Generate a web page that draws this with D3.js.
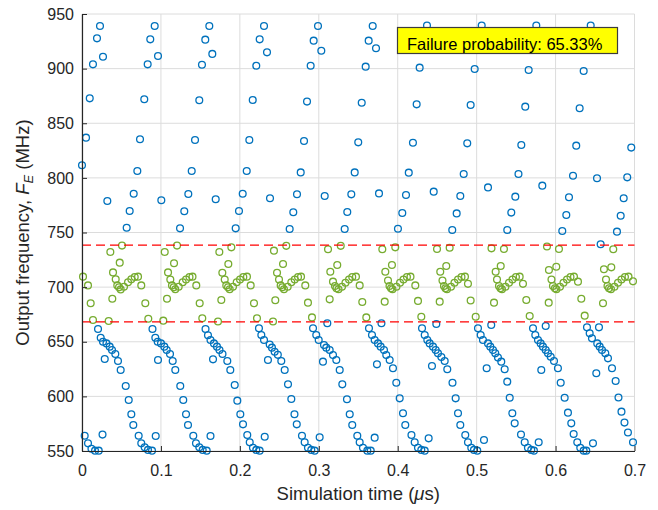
<!DOCTYPE html>
<html>
<head>
<meta charset="utf-8">
<script src="https://cdn.jsdelivr.net/npm/d3@7"></script>
<style>
  html, body { margin: 0; padding: 0; background: #ffffff; }
  svg { display: block; font-family: Arial, "Liberation Sans", Helvetica, sans-serif; }
</style>
</head>
<body>
<svg id="chart" width="658" height="510"></svg>
<script>
// Axis ticks
const xTicks = [0, 0.1, 0.2, 0.3, 0.4, 0.5, 0.6, 0.7];
const yTicks = [550, 600, 650, 700, 750, 800, 850, 900, 950];

// Acceptance band for the output frequency (MHz)
const passBand = [668.2, 738.4];
const failureLabel = "Failure probability: 65.33%";

// Sampled output frequency: [time (ns), frequency (MHz)]
// High branch (rising sweep and peak)
const upperSamples = [
  [0,811.5],[5.1,836.8],[9.8,872.8],[13.9,903.9],[19.0,927.7],[22.8,939],[26.6,910.9],[32.1,778.8],[56.6,754.4],[60.4,769.7],[65.5,785.5],[70.1,806.3],
  [73.5,835.3],[78.9,871.9],[83.2,903.9],[86.5,926.8],[92.1,939],[96.3,911.6],[100.5,779.5],[124.2,753.8],[129.6,769.5],[134.7,785.2],[139.0,806.3],
  [143.2,834.7],[148.6,871],[152.0,903.5],[156.2,926.5],[161.3,939],[165.1,913.5],[169.4,780.4],[194.7,753.8],[198.9,769.7],[203.6,785.5],[208.7,806.3],
  [212.0,834.7],[216.3,871.3],[220.8,902.7],[225.1,926.8],[230.6,939],[234.4,914.9],[238.2,781.3],[263.1,753.2],[267.7,768.5],[272.4,785],[277.1,805],
  [281.3,833.8],[285.1,869.8],[289.7,902.7],[293.5,925.6],[299.0,939],[303.2,916.4],[307.5,783.4],[332.8,753.2],[336.1,768.8],[341.2,784.9],[345.5,805],
  [350.0,832.5],[354.4,868.8],[359.4,901.8],[363.2,925.6],[368.3,939],[372.5,918.6],[376.3,785.8],[400.3,753.5],[405.8,767.8],[410.5,784.3],[414.0,804.8],
  [419.3,832.2],[424.0,867.3],[427.8,900.9],[432.0,924.5],[437.1,939.5],[440.9,919],[445.6,787.4],[469.1,752.3],[474.7,767.5],[479.3,783.4],[483.6,803.5],
  [488.1,831.6],[492.4,866.7],[497.5,899.7],[501.7,924],[506.4,939.5],[510.6,920],[514.4,791.3],[538.8,752.3],[543.9,768.2],[549.0,782.8],[553.0,803.5],
  [556.6,830.1],[561.6,865.2],[565.9,898.7],[570.7,923],[575.6,939.5],[580.2,921],[583.2,792.9],[608.5,751.4],[613.6,766],[617.0,782.2],[622.1,802],
  [626.2,829.5],[630.5,863.7],[635.6,897.8],[639.8,923],[644.5,939.5],[648.7,922],[652.5,799.6],[677.8,750.8],[682.5,765.4],[686.3,781.3],[690.8,800.5],[695.9,827.7]
];

// Middle branch (settling around the target)
const midSamples = [
  [1.3,709.6],[7.6,701.6],[11.0,685.2],[13.9,669.9],
  [33.8,669],[35.9,732.2],[38.4,689.4],[39.3,713.5],[42.7,707.1],[44.7,701.6],[46.9,699.8],[47.8,722.4],[49.0,697.9],[50.7,738.0],[53.2,700.4],[58.3,704.4],[62.5,707.1],[66.8,709.3],[71.0,709.6],[75.1,701.6],[80.2,685.2],[84.0,671.1],
  [103.0,669.3],[104.8,732.2],[107.7,689.4],[109.0,713.5],[111.9,707],[114.0,701.6],[116.2,699.8],[116.6,721.8],[118.2,698],[120.4,738.0],[122.5,700.4],[127.6,704.4],[131.8,707],[136.2,709.3],[140.0,709.6],[144.8,701.6],[149.1,685.2],[152.4,671.4],
  [172.3,668.6],[174.0,732.2],[176.5,688.2],[177.8,713.2],[180.8,707],[182.8,701.6],[185.0,699.8],[185.4,721.2],[187.1,698],[189.2,736.4],[191.3,700.4],[196.0,704.4],[200.2,707],[204.4,709.3],[209.0,709.6],[213.7,701.6],[217.9,685.2],[221.7,671.5],
  [242.0,668.6],[243.2,733.4],[244.9,688],[247.1,713.2],[249.6,707],[251.7,701.6],[253.8,699.8],[254.7,721.2],[255.9,698],[258.8,737.8],[260.6,700.4],[265.2,704.4],[269.5,707],[273.7,709.3],[277.5,709.6],[282.9,701.6],[286.3,685.8],[291.4,672.3],
  [310.8,666.9],[311.7,734.6],[313.8,688.8],[314.6,714.1],[318.0,705],[320.5,701],[322.4,699],[323.4,720.3],[325.0,698],[327.8,737.8],[329.4,700.4],[333.8,704],[338.3,707],[342.4,709.3],[347.1,709.6],[351.8,701.6],[355.1,686.4],[360.2,672.3],
  [379.4,667],[380.5,734.6],[383.5,686.7],[384.3,714.1],[387.7,706],[389.6,701],[391.5,699],[392.7,720.3],[393.4,698],[396.9,736.4],[398.4,700.4],[402.9,704],[407.3,707],[411.7,709.3],[416.2,709.6],[422.3,701.6],[425.7,687.4],[429.9,672.9],
  [448.9,666.2],[449.8,734.9],[453.2,686.7],[453.9,714.1],[456.7,706],[458.6,701],[460.5,699],[461.5,719.3],[462.4,698],[465.8,736.1],[467.5,700.4],[471.9,704],[476.4,707],[480.8,709.3],[485.2,709.6],[489.0,703],[492.4,687.7],[498.8,672.9],
  [518.5,665.3],[518.8,735.5],[522.0,685.8],[524.1,714.1],[525.8,707],[528.3,701],[530.2,699],[530.5,719.3],[532.1,698],[534.6,734.9],[536.5,700.4],[541.0,704],[545.4,707],[549.8,709.3],[554.5,709.6],[558.7,703],[562.9,688.2],[567.2,673.5],
  [587.5,664.4],[589.1,737.2],[591.3,685.8],[591.6,715.7],[594.8,707],[596.7,701],[599.2,699],[600.9,718.7],[601.1,698],[604.3,734.9],[605.6,700.4],[610.0,704],[614.5,707],[618.9,709.3],[623.3,709.6],[628.4,705],[632.6,689.4],[636.9,673.9],
  [655.0,663.2],[657.1,739.2],[660.1,685.2],[661.3,716.3],[663.9,707],[665.8,701],[667.7,699],[670.6,718.1],[670.2,698],[673.1,734.6],[674.6,700.4],[679.1,704],[683.5,707],[687.9,709.3],[692.4,709.6],[698.1,705.3]
];

// Low branch (falling sweep to the bottom)
const lowerSamples = [
  [3.4,564],[7.6,557],[12.0,552],[16.5,550.3],[21.2,550.3],[26.0,565],
  [20.3,661.7],[23.7,653.7],[26.6,650],[28.8,634.2],[31.0,648.5],[35.1,645.5],[38.0,642.4],[42.2,638.8],[45.6,632.4],[49.0,624.1],[55.4,609.5],[59.2,596.7],[62.5,583.6],[65.0,573.8],[71.8,564],[75.1,557],[79.4,553.4],[83.6,551],[88.7,550.3],[93.4,563.7],
  [89.3,661.7],[92.9,653.7],[95.9,650],[96.3,633.3],[100.1,648.5],[104.3,645.5],[107.3,642.4],[111.5,638.8],[114.9,632.4],[118.2,624.1],[124.5,609.5],[128.3,596.7],[131.8,583.6],[134.3,573.8],[141.0,564],[144.4,557],[148.6,553.4],[152.9,551],[158.0,550.3],[162.8,563.7],
  [156.5,661.7],[159.6,656],[162.8,651.6],[166.0,633.9],[167.2,648.5],[171.0,645.5],[174.2,642.4],[178.0,638.8],[184.1,632.4],[187.9,624.1],[193.5,610.4],[196.8,596.1],[200.6,583.6],[204.0,574.4],[209.4,564.6],[212.5,557.9],[216.6,553],[220.8,551],[225.1,550.3],[231.5,563.1],
  [224.2,662.3],[227.2,656.2],[230.6,651.6],[235.6,633.3],[237.8,647.5],[240.7,644.6],[244.1,640.9],[248.1,638],[252.5,632.4],[256.8,624.1],[261.0,611],[265.2,597.6],[269.2,583.6],[272.1,574.4],[278.7,564],[282.1,557.9],[286.3,553],[290.5,551],[294.8,550.3],[301.1,562.5],
  [292.7,662.3],[296.8,656.2],[299.9,651.6],[305.3,631.8],[306.6,647],[309.5,644.6],[313.8,642.4],[318.0,637.9],[322.2,633.3],[326.5,624.1],[329.8,611],[335.7,597.3],[339.2,583.6],[342.4,573.8],[348.8,564],[351.8,557.9],[356.0,553],[361.5,550.3],[365.8,550.3],[370.8,562.2],
  [363.6,662.3],[367.4,656.2],[370.8,651.6],[373.7,629.3],[375.0,648.5],[378.4,645.5],[382.6,642.4],[385.5,637.9],[389.8,633.3],[394.0,625.7],[398.2,612.5],[402.5,598.2],[406.7,584.5],[409.6,573.8],[417.4,564.6],[421.5,557.9],[425.7,553],[429.9,551],[434.2,550.3],[439.2,561.6],
  [430.8,662.3],[434.2,656.2],[437.5,651.6],[440.5,648.5],[443.4,627.8],[444.7,645.5],[448.1,642.4],[451.0,639.4],[455.3,636],[459.5,632.4],[462.8,624.8],[469.4,612.5],[473.4,598.2],[476.4,584.5],[479.3,573.8],[485.6,564.6],[489.0,557.9],[493.2,553],[496.6,551],[500.8,550.3],[509.3,560.1],
  [501.7,662.3],[505.1,656.2],[508.0,651.6],[512.7,625.7],[514.4,648.5],[517.3,645.5],[520.7,642.4],[523.6,639.4],[527.0,635.5],[531.2,631.8],[535.5,624.8],[538.8,613.5],[541.9,598.8],[545.2,584.5],[548.2,575.3],[556.2,565],[560.9,557.9],[565.0,553],[569.2,551],[572.6,550.3],[578.6,558],
  [571.4,662.3],[574.3,656.2],[577.7,651.6],[581.1,648.5],[581.9,624.1],[584.0,645.5],[587.5,642.4],[590.4,639.4],[593.8,636.3],[598.0,632.4],[603.0,625.7],[606.5,612.5],[611.5,598.8],[615.7,585.1],[619.9,575.3],[622.9,565.6],[627.5,557.9],[631.3,553],[635.6,550.3],[638.9,550.3],[647.4,557],
  [639.8,663.2],[643.2,657.7],[646.1,653.1],[651.6,621.1],[652.8,648.5],[655.9,645.5],[658.8,642.4],[663.0,639.4],[666.4,634.8],[671.5,625.7],[676.1,614.1],[679.7,599],[683.5,586],[687.3,576],[691.7,567],[698.1,558]
];

const colors = { fail: "#0072BD", pass: "#77AC30", limit: "#FF0000", axis: "#262626", grid: "#dcdcdc" };

const svg = d3.select("#chart");
const plot = { left: 82, right: 634.5, top: 14, bottom: 451 };

const x = d3.scaleLinear().domain([0, 0.7]).range([plot.left, plot.right]);
const y = d3.scaleLinear().domain([550, 950]).range([plot.bottom, plot.top]);

// Grid
const grid = svg.append("g").attr("stroke", colors.grid).attr("stroke-width", 1);
grid.selectAll("line.v").data(xTicks).join("line").attr("class", "v")
  .attr("x1", d => x(d)).attr("x2", d => x(d)).attr("y1", plot.top).attr("y2", plot.bottom);
grid.selectAll("line.h").data(yTicks).join("line").attr("class", "h")
  .attr("y1", d => y(d)).attr("y2", d => y(d)).attr("x1", plot.left).attr("x2", plot.right);

// Samples, coloured by whether they fall inside the acceptance band
const samples = upperSamples.concat(midSamples, lowerSamples)
  .map(([ns, f]) => ({ t: ns / 1000, f, pass: f >= passBand[0] && f <= passBand[1] }));

svg.append("g").attr("fill", "none").attr("stroke-width", 1.3)
  .selectAll("circle").data(samples).join("circle")
  .attr("cx", d => x(d.t)).attr("cy", d => y(d.f)).attr("r", 3.4)
  .attr("stroke", d => d.pass ? colors.pass : colors.fail);

// Band limits
svg.append("g").selectAll("line").data(passBand).join("line")
  .attr("x1", plot.left).attr("x2", plot.right)
  .attr("y1", d => y(d)).attr("y2", d => y(d))
  .attr("stroke", colors.limit).attr("stroke-width", 1.3).attr("stroke-dasharray", "9,5");

// Axes
const xAxis = svg.append("g").attr("transform", `translate(0,${plot.bottom})`)
  .call(d3.axisBottom(x).tickValues(xTicks).tickFormat(d => d === 0 ? "0" : d3.format(".1f")(d))
    .tickSizeInner(-5).tickSizeOuter(0).tickPadding(14));
const yAxis = svg.append("g").attr("transform", `translate(${plot.left},0)`)
  .call(d3.axisLeft(y).tickValues(yTicks).tickSizeInner(-5).tickSizeOuter(0).tickPadding(8));

[xAxis, yAxis].forEach(g => {
  g.select(".domain").attr("stroke", colors.axis).attr("stroke-width", 1.2);
  g.selectAll(".tick line").attr("stroke", colors.axis).attr("stroke-width", 1);
  g.selectAll(".tick text").attr("fill", colors.axis).attr("font-size", 16)
    .attr("font-family", "Arial, 'Liberation Sans', Helvetica, sans-serif");
});

// Axis titles
const xTitle = svg.append("text").attr("x", (plot.left + plot.right) / 2).attr("y", 500)
  .attr("text-anchor", "middle").attr("font-size", 18.5).attr("fill", colors.axis);
xTitle.append("tspan").text("Simulation time (");
xTitle.append("tspan").attr("font-style", "italic").text("\u03bc");
xTitle.append("tspan").text("s)");

const yTitle = svg.append("text")
  .attr("transform", `translate(29,${(plot.top + plot.bottom) / 2}) rotate(-90)`)
  .attr("text-anchor", "middle").attr("font-size", 18.5).attr("fill", colors.axis);
yTitle.append("tspan").text("Output frequency, ");
yTitle.append("tspan").attr("font-style", "italic").text("F");
yTitle.append("tspan").attr("font-style", "italic").attr("font-size", 13).attr("dy", 4).text("E");
yTitle.append("tspan").attr("dy", -4).text(" (MHz)");

// Failure probability annotation
const note = svg.append("g");
note.append("rect").attr("x", 397.5).attr("y", 27.5).attr("width", 220).attr("height", 26)
  .attr("fill", "#ffff00").attr("stroke", "#3c3c3c").attr("stroke-width", 1.2);
note.append("text").attr("x", 407).attr("y", 49.5).attr("font-size", 16.5).attr("fill", "#000")
  .text(failureLabel);
</script>
</body>
</html>
